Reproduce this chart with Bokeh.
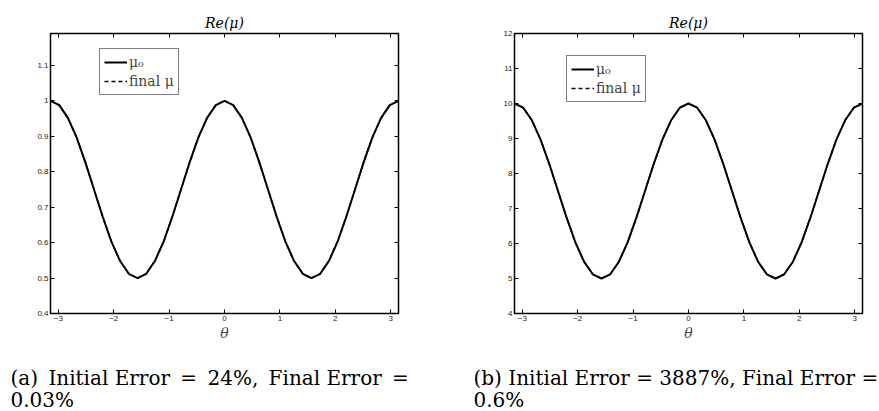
from bokeh.plotting import figure
from bokeh.models import LinearAxis, FixedTicker, Label, Range1d
from bokeh.layouts import row, column
from bokeh.embed import file_html
from bokeh.resources import INLINE

theta = [-3.1416, -2.9845, -2.8274, -2.6704, -2.5133, -2.3562, -2.1991, -2.0420,
         -1.8850, -1.7279, -1.5708, -1.4137, -1.2566, -1.0996, -0.9425, -0.7854,
         -0.6283, -0.4712, -0.3142, -0.1571, 0.0, 0.1571, 0.3142, 0.4712, 0.6283,
         0.7854, 0.9425, 1.0996, 1.2566, 1.4137, 1.5708, 1.7279, 1.8850, 2.0420,
         2.1991, 2.3562, 2.5133, 2.6704, 2.8274, 2.9845, 3.1416]

mu0_a = [1.0, 0.988, 0.952, 0.897, 0.827, 0.75, 0.673, 0.603, 0.548, 0.512, 0.5,
         0.512, 0.548, 0.603, 0.673, 0.75, 0.827, 0.897, 0.952, 0.988, 1.0,
         0.988, 0.952, 0.897, 0.827, 0.75, 0.673, 0.603, 0.548, 0.512, 0.5,
         0.512, 0.548, 0.603, 0.673, 0.75, 0.827, 0.897, 0.952, 0.988, 1.0]
final_a = [1.0, 0.988, 0.952, 0.897, 0.827, 0.75, 0.673, 0.603, 0.548, 0.512, 0.5,
           0.512, 0.548, 0.603, 0.673, 0.75, 0.827, 0.897, 0.952, 0.988, 1.0,
           0.988, 0.952, 0.897, 0.827, 0.75, 0.673, 0.603, 0.548, 0.512, 0.5,
           0.512, 0.548, 0.603, 0.673, 0.75, 0.827, 0.897, 0.952, 0.988, 1.0]
mu0_b = [10.0, 9.88, 9.52, 8.97, 8.27, 7.5, 6.73, 6.03, 5.48, 5.12, 5.0,
         5.12, 5.48, 6.03, 6.73, 7.5, 8.27, 8.97, 9.52, 9.88, 10.0,
         9.88, 9.52, 8.97, 8.27, 7.5, 6.73, 6.03, 5.48, 5.12, 5.0,
         5.12, 5.48, 6.03, 6.73, 7.5, 8.27, 8.97, 9.52, 9.88, 10.0]
final_b = [10.0, 9.88, 9.52, 8.97, 8.27, 7.5, 6.73, 6.03, 5.48, 5.12, 5.0,
           5.12, 5.48, 6.03, 6.73, 7.5, 8.27, 8.97, 9.52, 9.88, 10.0,
           9.88, 9.52, 8.97, 8.27, 7.5, 6.73, 6.03, 5.48, 5.12, 5.0,
           5.12, 5.48, 6.03, 6.73, 7.5, 8.27, 8.97, 9.52, 9.88, 10.0]

x_ticks = [-3, -2, -1, 0, 1, 2, 3]
y_ticks_a = [0.4, 0.5, 0.6, 0.7, 0.8, 0.9, 1.0, 1.1]
y_ticks_b = [4, 5, 6, 7, 8, 9, 10, 11, 12]
title_text = "Re(μ)"
xlabel_text = "θ"
legend_labels = ["μ₀", "final μ"]
caption_a = ["(a) \u2009Initial Error \u2009= \u200924%, \u2009Final Error \u2009=", "0.03%"]
caption_b = ["(b) Initial Error = 3887%, Final Error =", "0.6%"]

SERIF = "DejaVu Serif"
SANS = "Liberation Sans"


def style_axis(ax, ticks, show_labels=True):
    ax.ticker = FixedTicker(ticks=ticks)
    ax.axis_line_color = None
    ax.major_tick_in = 4
    ax.major_tick_out = 0
    ax.major_tick_line_color = "black"
    ax.minor_tick_line_color = None
    ax.major_label_text_font = SANS
    ax.major_label_text_color = "#222222"
    ax.major_label_text_font_size = "8px"
    ax.major_label_standoff = 2
    if not show_labels:
        ax.major_label_overrides = {t: "" for t in ticks}
        ax.major_label_standoff = 0


def make_fig(width, border_left, border_right, yr, yticks, mu0, fin, overrides,
             legend_loc):
    p = figure(width=width, height=345, output_backend="svg", toolbar_location=None,
               x_range=Range1d(-3.1416, 3.1416), y_range=Range1d(*yr),
               min_border_left=border_left, min_border_right=border_right,
               min_border_top=33, min_border_bottom=32)
    p.xgrid.visible = False
    p.ygrid.visible = False
    p.outline_line_color = "black"
    p.outline_line_width = 1.5
    p.background_fill_color = "white"
    p.border_fill_color = "white"

    p.title.text = title_text
    p.title.align = "center"
    p.title.text_font = SERIF
    p.title.text_font_style = "italic"
    p.title.text_font_size = "14px"
    p.title.text_color = "black"
    p.title.standoff = 6

    style_axis(p.xaxis[0], x_ticks)
    style_axis(p.yaxis[0], yticks)
    p.yaxis[0].major_label_overrides = overrides
    p.xaxis[0].axis_label = xlabel_text
    p.xaxis[0].axis_label_text_font = SERIF
    p.xaxis[0].axis_label_text_font_style = "italic"
    p.xaxis[0].axis_label_text_font_size = "14px"
    p.xaxis[0].axis_label_standoff = 1

    top = LinearAxis()
    style_axis(top, x_ticks, show_labels=False)
    p.add_layout(top, "above")
    right = LinearAxis()
    style_axis(right, yticks, show_labels=False)
    p.add_layout(right, "right")

    p.line(theta, mu0, line_color="black", line_width=2, legend_label=legend_labels[0])
    p.line(theta, fin, line_color="black", line_width=1.5, line_dash="4 3",
           legend_label=legend_labels[1])

    lg = p.legend[0]
    lg.location = legend_loc
    lg.border_line_color = "black"
    lg.border_line_width = 1.2
    lg.background_fill_alpha = 1
    lg.label_text_font = SERIF
    lg.label_text_font_size = "14px"
    lg.glyph_width = 23
    lg.glyph_height = 18
    lg.label_height = 18
    lg.label_standoff = 2
    lg.padding = 4
    lg.spacing = 1
    lg.margin = 0
    return p


p1 = make_fig(439, 50, 41, (0.4, 1.19), y_ticks_a, mu0_a, final_a,
              {1.0: "1", 1: "1"}, (49, 218))
p2 = make_fig(440, 75, 17, (4, 12), y_ticks_b, mu0_b, final_b,
              {}, (52, 211))

cap = figure(width=879, height=66, output_backend="svg", toolbar_location=None,
             x_range=Range1d(0, 879), y_range=Range1d(0, 66),
             min_border=0, min_border_left=0, min_border_right=0,
             min_border_top=0, min_border_bottom=0)
cap.axis.visible = False
cap.grid.visible = False
cap.outline_line_color = None
for cx, lines in ((10, caption_a), (473, caption_b)):
    for cy, txt in ((34, lines[0]), (12, lines[1])):
        cap.add_layout(Label(x=cx, y=cy, text=txt, text_align="left",
                             text_baseline="middle", text_font=SERIF,
                             text_font_size="20px", text_color="black"))

layout = column(row(p1, p2), cap)
open("out.html", "w").write(file_html(layout, INLINE))
